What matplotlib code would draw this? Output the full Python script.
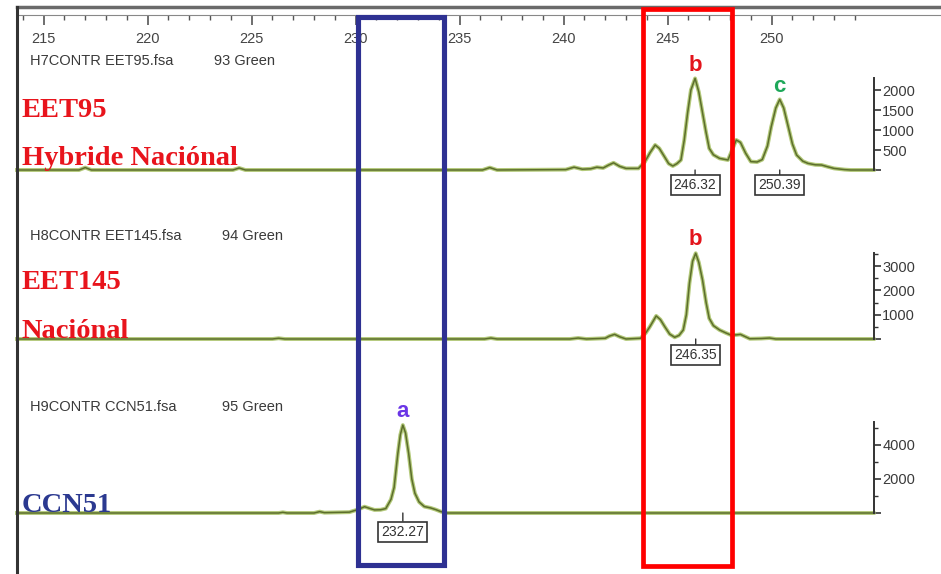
import numpy as np
import matplotlib
matplotlib.use('Agg')
import matplotlib.pyplot as plt
from matplotlib.patches import Rectangle
from matplotlib.ticker import MultipleLocator

plt.rcParams['font.family'] = 'Liberation Sans'

# ---- data: fragment size (bp) vs. signal (RFU) ----
eet95_bp = [213.72, 216.7, 217.0, 217.3, 224.1, 224.4, 224.7, 236.1, 236.45, 236.8,
            240.1, 240.5, 240.9, 241.3, 241.6, 241.9, 242.15, 242.4, 242.7, 243.0,
            243.6, 243.9, 244.15, 244.4, 244.6, 244.85, 245.05, 245.25, 245.45, 245.64,
            245.8, 245.96, 246.12, 246.32, 246.5, 246.68, 246.84, 247.0, 247.2, 247.5,
            247.9, 248.1, 248.3, 248.5, 248.75, 249.0, 249.3, 249.55, 249.8, 249.98,
            250.2, 250.39, 250.58, 250.8, 251.0, 251.2, 251.5, 251.75, 252.1, 252.4,
            252.7, 253.0, 253.5, 253.8, 254.9]
eet95_rfu = [0, 0, 60, 0, 0, 50, 0, 0, 60, 0,
             10, 70, 20, 30, 70, 50, 120, 180, 90, 40,
             40, 200, 430, 625, 540, 330, 160, 100, 160, 250,
             750, 1425, 2000, 2290, 1950, 1425, 960, 540, 380, 290,
             250, 500, 750, 690, 420, 210, 200, 260, 600, 1080,
             1550, 1765, 1550, 1080, 650, 375, 220, 165, 130, 125,
             80, 40, 10, 0, 0]

eet145_bp = [213.72, 226.0, 226.3, 226.6, 236.2, 236.5, 236.8, 240.3, 240.7, 241.1,
             242.0, 242.2, 242.45, 242.7, 243.0, 243.7, 243.95, 244.15, 244.45, 244.65,
             244.86, 245.1, 245.34, 245.55, 245.75, 245.9, 246.05, 246.2, 246.35, 246.5,
             246.68, 246.85, 247.0, 247.2, 247.5, 247.8, 248.05, 248.3, 248.5, 248.7,
             248.95, 249.5, 249.9, 250.2, 254.9]
eet145_rfu = [0, 0, 30, 0, 0, 40, 0, 0, 40, 0,
              30, 120, 190, 90, 0, 30, 250, 510, 950, 800,
              510, 200, 70, 150, 370, 1000, 2300, 3200, 3530, 3150,
              2420, 1500, 850, 550, 370, 250, 160, 170, 190, 110,
              10, 20, 40, 0, 0]

ccn51_bp = [213.72, 226.3, 226.5, 226.7, 228.0, 228.27, 228.5, 229.7, 230.1, 230.43,
            230.7, 230.91, 231.2, 231.45, 231.7, 231.85, 232.03, 232.15, 232.27, 232.4,
            232.55, 232.7, 232.85, 233.05, 233.3, 233.6, 233.85, 234.1, 234.4, 254.9]
ccn51_rfu = [0, 0, 40, 0, 0, 80, 20, 50, 200, 370,
             260, 180, 190, 260, 800, 1500, 3500, 4600, 5170, 4700,
             3500, 2000, 1160, 650, 380, 300, 200, 80, 0, 0]

# called peaks: size, height, letter
peaks_eet95 = [246.32, 250.39]
heights_eet95 = [2290, 1765]
letters_eet95 = ['b', 'c']
peaks_eet145 = [246.35]
heights_eet145 = [3530]
letters_eet145 = ['b']
peaks_ccn51 = [232.27]
heights_ccn51 = [5170]
letters_ccn51 = ['a']

# allele windows (bp)
blue_box = [230.1, 234.25]
red_box = [243.8, 248.1]

ruler_major = [215, 220, 225, 230, 235, 240, 245, 250]
ruler_minor = list(range(214, 255))

W, H = 941, 574
X0 = 213.72      # bp at left frame
PXU = 20.8       # pixels per bp

fig = plt.figure(figsize=(W / 100, H / 100), dpi=100)


def px_axes(x1, y1, x2, y2):
    return fig.add_axes([x1 / W, 1 - y2 / H, (x2 - x1) / W, (y2 - y1) / H])


line_light = '#b3c97a'
line_dark = '#5c6e2c'
letter_col = {'a': '#6a35e6', 'b': '#e3141c', 'c': '#1ea85a'}


def panel(ytop_px, ybase_px, ymax, bp, rfu, major, minor, peaks, heights, letters, lab_off):
    ax = px_axes(17, ytop_px, 874, ybase_px)
    ax.patch.set_visible(False)
    ax.set_xlim(X0, X0 + 857 / PXU)
    ax.set_ylim(0, ymax)
    for s in ['left', 'top', 'bottom']:
        ax.spines[s].set_visible(False)
    ax.spines['right'].set_linewidth(1.4)
    ax.spines['right'].set_color('#333333')
    ax.set_xticks([])
    ax.yaxis.tick_right()
    ax.yaxis.set_major_locator(MultipleLocator(major))
    if minor:
        ax.yaxis.set_minor_locator(MultipleLocator(minor))
    ax.tick_params(axis='y', which='major', length=5, width=1.2, color='#333333',
                   labelsize=10.5, labelcolor='#3a3a3a', pad=1)
    ax.tick_params(axis='y', which='minor', length=3, width=1.0, color='#333333')
    ticks = [t for t in ax.get_yticks() if 0 <= t <= ymax]
    ax.set_yticks(ticks)
    ax.set_yticklabels(['' if t == 0 else '%d' % t for t in ticks])
    ax.plot(bp, rfu, color=line_light, lw=2.8, solid_joinstyle='round', clip_on=False)
    ax.plot(bp, rfu, color=line_dark, lw=1.1, solid_joinstyle='round', clip_on=False)
    for p, h, l in zip(peaks, heights, letters):
        ax.annotate(l, (p, h), xytext=(0, 2), textcoords='offset points',
                    ha='center', va='bottom', fontsize=16, fontweight='bold',
                    color=letter_col[l], annotation_clip=False)
        ax.annotate('%.2f' % p, (p, 0), xytext=(0, -lab_off), textcoords='offset points',
                    ha='center', va='center', fontsize=10, color='#333333',
                    bbox=dict(boxstyle='square,pad=0.22', fc='white', ec='#333333', lw=1.2),
                    arrowprops=dict(arrowstyle='-', color='#333333', lw=1.0,
                                    shrinkA=0, shrinkB=0),
                    annotation_clip=False)
    return ax


panel(78, 170, 2300, eet95_bp, eet95_rfu, 500, None,
      peaks_eet95, heights_eet95, letters_eet95, 11)
panel(253, 339, 3540, eet145_bp, eet145_rfu, 1000, 500,
      peaks_eet145, heights_eet145, letters_eet145, 11.5)
panel(422, 513, 5350, ccn51_bp, ccn51_rfu, 2000, 1000,
      peaks_ccn51, heights_ccn51, letters_ccn51, 13.5)

# ruler on top
ru = px_axes(17, 7, 941, 15)
ru.patch.set_visible(False)
ru.set_xlim(X0, X0 + 924 / PXU)
ru.set_yticks([])
for s in ['left', 'right']:
    ru.spines[s].set_visible(False)
ru.spines['top'].set_linewidth(2.5)
ru.spines['top'].set_color('#6a6a6a')
ru.spines['bottom'].set_linewidth(0.8)
ru.spines['bottom'].set_color('#888888')
ru.set_xticks(ruler_major)
ru.set_xticks([m for m in ruler_minor if m not in ruler_major], minor=True)
ru.tick_params(axis='x', which='major', direction='out', length=7, width=1.2,
               color='#555555', labelsize=10.5, labelcolor='#444444', pad=5)
ru.tick_params(axis='x', which='minor', direction='out', length=3.5, width=1.0,
               color='#555555')

# overlay: frame and allele windows
ov = px_axes(17, 7, 941, 574)
ov.patch.set_visible(False)
ov.set_xlim(X0, X0 + 924 / PXU)
ov.set_ylim(574, 7)
ov.set_xticks([])
ov.set_yticks([])
for s in ['top', 'right', 'bottom']:
    ov.spines[s].set_visible(False)
ov.spines['left'].set_linewidth(2.2)
ov.spines['left'].set_color('#333333')
ov.add_patch(Rectangle((blue_box[0], 16.5), blue_box[1] - blue_box[0], 548,
                       fill=False, ec='#2e3192', lw=3.7, clip_on=False))
ov.add_patch(Rectangle((red_box[0], 8.5), red_box[1] - red_box[0], 557,
                       fill=False, ec='#ff0000', lw=3.4, clip_on=False))

# sample names
grey = '#3a3a3a'
for y, f, g in [(61, 'H7CONTR EET95.fsa', '93 Green'),
                (236, 'H8CONTR EET145.fsa', '94 Green'),
                (407, 'H9CONTR CCN51.fsa', '95 Green')]:
    fig.text(30 / W, 1 - y / H, f, fontsize=10.5, color=grey, va='center')
    fig.text((214 if g.startswith('93') else 222) / W, 1 - y / H, g,
             fontsize=10.5, color=grey, va='center')

serif = dict(family='Liberation Serif', fontweight='bold', fontsize=20.5)
fig.text(22 / W, 1 - 117 / H, 'EET95', color='#e8141c', va='baseline', **serif)
fig.text(22 / W, 1 - 165 / H, 'Hybride Naciónal', color='#e8141c', va='baseline', **serif)
fig.text(22 / W, 1 - 289 / H, 'EET145', color='#e8141c', va='baseline', **serif)
fig.text(22 / W, 1 - 338 / H, 'Naciónal', color='#e8141c', va='baseline', **serif)
fig.text(22 / W, 1 - 512 / H, 'CCN51', color='#2b3990', va='baseline', **serif)

fig.savefig('out.png', dpi=100)
